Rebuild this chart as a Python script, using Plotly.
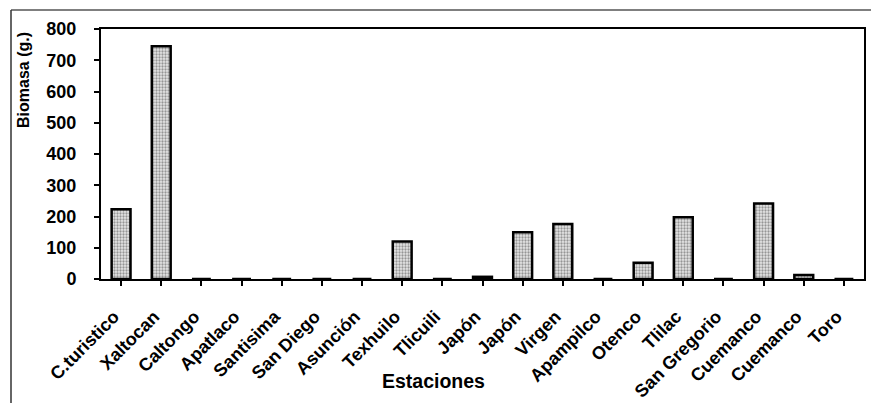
import plotly.graph_objects as go

estaciones = ["C.turistico", "Xaltocan", "Caltongo", "Apatlaco", "Santisima", "San Diego",
              "Asunción", "Texhuilo", "Tlicuili", "Japón", "Japón", "Virgen", "Apampilco",
              "Otenco", "Tlilac", "San Gregorio", "Cuemanco", "Cuemanco", "Toro"]
biomasa = [223, 745, 0, 0, 0, 0, 0, 120, 0, 7, 150, 176, 0, 52, 198, 0, 242, 13, 0]
y_ticks = [0, 100, 200, 300, 400, 500, 600, 700, 800]

# use index positions so repeated names stay separate categories
x_pos = list(range(len(estaciones)))
# trailing no-break spaces nudge the rotated labels slightly left/down, as in the original
tick_text = [name + "\u00a0\u00a0" for name in estaciones]

fig = go.Figure()
fig.add_trace(go.Bar(
    x=x_pos, y=biomasa,
    marker=dict(
        color="#d9d9d9",
        line=dict(color="black", width=2.5),
        pattern=dict(shape=".", fgcolor="#444444", bgcolor="#e6e6e6", size=3, solidity=0.45),
    ),
    width=0.47,
    showlegend=False,
))

font_main = "Liberation Sans, Arial, sans-serif"

L, R, T, B = 101, 864, 29, 279
W, H = R - L, B - T

def px_x(px):
    return (px - L) / W

def px_y(py):
    return (B - py) / H

fig.update_layout(
    width=871, height=403,
    margin=dict(l=L, r=871 - R, t=T, b=403 - B),
    paper_bgcolor="white", plot_bgcolor="white",
    font=dict(family=font_main, color="black"),
    xaxis=dict(
        tickmode="array", tickvals=x_pos, ticktext=tick_text,
        range=[-0.5, len(estaciones) - 0.5],
        tickangle=-45, tickfont=dict(size=18, weight="bold"),
        ticklabelstandoff=6,
        showline=True, linecolor="black", linewidth=2, mirror=True,
        ticks="outside", ticklen=5, tickcolor="black", tickwidth=1.5,
        tickson="boundaries",
        showgrid=False, zeroline=False, automargin=False,
    ),
    yaxis=dict(
        range=[0, 800], tickvals=y_ticks,
        tickfont=dict(size=18, weight="bold"),
        ticklabelstandoff=14,
        showline=True, linecolor="black", linewidth=2, mirror=True,
        ticks="outside", ticklen=5, tickcolor="black", tickwidth=1.5,
        showgrid=False, zeroline=False, automargin=False,
    ),
    annotations=[
        dict(text="Biomasa (g.)", textangle=-90,
             xref="paper", yref="paper", x=px_x(23), y=px_y(80),
             xanchor="center", yanchor="middle", showarrow=False,
             font=dict(size=16, weight="bold")),
        dict(text="Estaciones",
             xref="paper", yref="paper", x=px_x(433), y=px_y(381),
             xanchor="center", yanchor="middle", showarrow=False,
             font=dict(size=19.5, weight="bold")),
    ],
    shapes=[
        dict(type="line", xref="paper", yref="paper",
             x0=px_x(11), x1=px_x(871), y0=px_y(10), y1=px_y(10),
             line=dict(color="#555555", width=1.5)),
        dict(type="line", xref="paper", yref="paper",
             x0=px_x(11), x1=px_x(11), y0=px_y(10), y1=px_y(403),
             line=dict(color="#333333", width=1.5)),
    ],
)

fig.write_html("out.html")
